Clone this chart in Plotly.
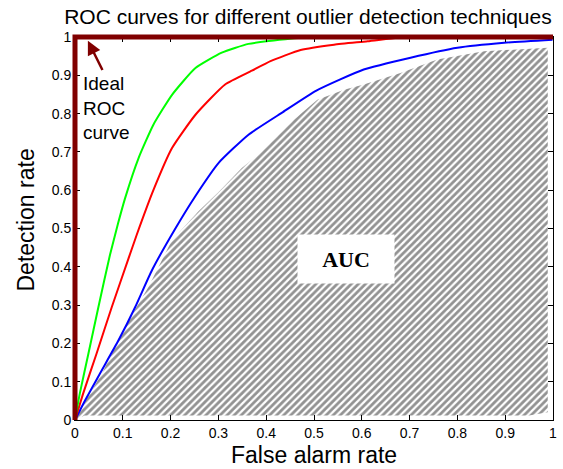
import plotly.graph_objects as go

# Data
green_fpr = [0, 0.010, 0.028, 0.049, 0.073, 0.090, 0.105, 0.133, 0.164, 0.203, 0.252, 0.307, 0.363, 0.454, 0.49]
green_tpr = [0, 0.069, 0.173, 0.295, 0.430, 0.513, 0.580, 0.684, 0.771, 0.849, 0.919, 0.959, 0.982, 0.996, 1.0]

red_fpr = [0, 0.017, 0.045, 0.077, 0.112, 0.129, 0.164, 0.203, 0.252, 0.314, 0.370, 0.409, 0.472, 0.542, 0.612, 0.674, 0.70]
red_tpr = [0, 0.069, 0.173, 0.295, 0.422, 0.483, 0.600, 0.710, 0.797, 0.876, 0.912, 0.937, 0.966, 0.980, 0.989, 0.998, 1.0]

blue_fpr = [0, 0.021, 0.052, 0.091, 0.126, 0.161, 0.210, 0.252, 0.301, 0.363, 0.435, 0.505, 0.604, 0.702, 0.800, 0.898, 0.999]
blue_tpr = [0, 0.051, 0.121, 0.208, 0.295, 0.391, 0.500, 0.585, 0.672, 0.745, 0.804, 0.860, 0.915, 0.946, 0.972, 0.985, 0.993]

auc_fpr = [0, 0.014, 0.056, 0.084, 0.112, 0.154, 0.203, 0.259, 0.301, 0.349, 0.388, 0.423, 0.458, 0.507, 0.563, 0.604, 0.681, 0.758, 0.856, 0.989, 0.989, 0.95, 0.02, 0]
auc_tpr = [0, 0.034, 0.121, 0.190, 0.260, 0.348, 0.470, 0.546, 0.596, 0.658, 0.697, 0.740, 0.784, 0.836, 0.862, 0.876, 0.906, 0.941, 0.963, 0.972, 0.02, 0.012, 0.012, 0]

ideal_fpr = [0, 0, 1]
ideal_tpr = [0, 1, 1]

x_ticks = [0, 0.1, 0.2, 0.3, 0.4, 0.5, 0.6, 0.7, 0.8, 0.9, 1]
x_tick_text = ["0", "0.1", "0.2", "0.3", "0.4", "0.5", "0.6", "0.7", "0.8", "0.9", "1"]
y_ticks = x_ticks
y_tick_text = x_tick_text

FONT = "Liberation Sans, Arial, sans-serif"

fig = go.Figure()

fig.add_trace(go.Scatter(
    x=auc_fpr, y=auc_tpr, mode="none", fill="toself",
    fillcolor="rgba(0,0,0,0)",
    fillpattern=dict(shape="/", size=5, solidity=0.55, fgcolor="#262626", bgcolor="white"),
    hoverinfo="skip", showlegend=False))

line_shape = dict(width=2, shape="spline", smoothing=0.5)
fig.add_trace(go.Scatter(x=blue_fpr, y=blue_tpr, mode="lines",
                         line=dict(color="#0000ff", **line_shape), showlegend=False))
fig.add_trace(go.Scatter(x=red_fpr, y=red_tpr, mode="lines",
                         line=dict(color="#ff0000", **line_shape), showlegend=False))
fig.add_trace(go.Scatter(x=green_fpr, y=green_tpr, mode="lines",
                         line=dict(color="#00ff00", **line_shape), showlegend=False))

# Ideal ROC curve (axis range is [0,1], so paper coords coincide with data coords; paper refs avoid clipping)
ideal_path = "M " + " L ".join(f"{x},{y}" for x, y in zip(ideal_fpr, ideal_tpr))
fig.add_shape(type="path", path=ideal_path, xref="paper", yref="paper",
              line=dict(color="#800000", width=5), layer="above")

fig.add_annotation(x=0.566, y=0.42, xref="x", yref="y", text="<b>AUC</b>",
                   showarrow=False, bgcolor="white", borderpad=0, width=96, height=48,
                   font=dict(family="Liberation Serif, Times New Roman, serif", size=22, color="black"))

fig.add_annotation(x=0.027, y=0.99, ax=0.059, ay=0.91, xref="x", yref="y", axref="x", ayref="y",
                   text="", showarrow=True, arrowhead=2, arrowsize=1.1, arrowwidth=2.5,
                   arrowcolor="#800000")
fig.add_annotation(x=0.012, y=0.91, xref="x", yref="y", xanchor="left", yanchor="top",
                   text="Ideal<br>ROC<br>curve", showarrow=False, align="left",
                   font=dict(family=FONT, size=19, color="black"))

# Axis titles
fig.add_annotation(x=0.5, y=0, xref="paper", yref="paper", yanchor="middle", yshift=-35,
                   text="False alarm rate", showarrow=False,
                   font=dict(family=FONT, size=23, color="black"))
fig.add_annotation(x=0, y=0.5, xref="paper", yref="paper", xanchor="center", yanchor="middle",
                   xshift=-50, yshift=8, textangle=-90,
                   text="Detection rate", showarrow=False,
                   font=dict(family=FONT, size=23, color="black"))

axis_common = dict(range=[0, 1], showgrid=False, zeroline=False, showline=True,
                   linecolor="black", linewidth=1, mirror="ticks", ticks="inside",
                   ticklen=5, tickcolor="black", automargin=False,
                   tickfont=dict(family=FONT, size=14, color="black"))

fig.update_xaxes(tickvals=x_ticks, ticktext=x_tick_text, **axis_common)
fig.update_yaxes(tickvals=y_ticks, ticktext=y_tick_text, **axis_common)

fig.update_layout(
    width=563, height=469,
    margin=dict(l=75, r=10, t=37, b=49, autoexpand=False),
    plot_bgcolor="white", paper_bgcolor="white",
    title=dict(text="ROC curves for different outlier detection techniques",
               x=0.547, xanchor="center", y=0.964, yanchor="middle", automargin=False,
               font=dict(family=FONT, size=21, color="black")),
)

fig.write_html("out.html", config={"displayModeBar": False},
               post_script="document.body.style.margin='0';document.body.style.overflow='hidden';")
